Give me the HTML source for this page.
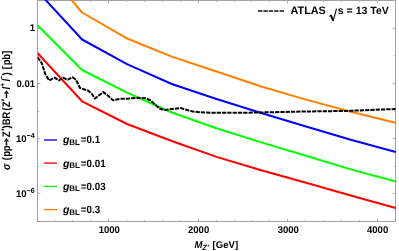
<!DOCTYPE html>
<html><head><meta charset="utf-8">
<style>
html,body{margin:0;padding:0;background:#fff;width:399px;height:251px;overflow:hidden}
svg{display:block;will-change:transform}
text{font-family:"Liberation Sans",sans-serif;font-weight:bold;fill:#000;text-rendering:geometricPrecision}
</style></head><body>
<svg width="399" height="251" viewBox="0 0 399 251">
<defs><clipPath id="c"><rect x="37.5" y="0" width="358.5" height="221.5"/></clipPath></defs>
<rect width="399" height="251" fill="#fff"/>
<rect x="37.5" y="0.5" width="358" height="221" stroke="#a2a2a2" stroke-width="1" fill="none"/>
<path d="M54.5,221.5v-1.4M54.5,0.5v1.4M72.5,221.5v-1.4M72.5,0.5v1.4M90.5,221.5v-1.4M90.5,0.5v1.4M108.5,221.5v-2.8M108.5,0.5v2.8M126.5,221.5v-1.4M126.5,0.5v1.4M144.5,221.5v-1.4M144.5,0.5v1.4M162.5,221.5v-1.4M162.5,0.5v1.4M180.5,221.5v-1.4M180.5,0.5v1.4M198.5,221.5v-2.8M198.5,0.5v2.8M216.5,221.5v-1.4M216.5,0.5v1.4M234.5,221.5v-1.4M234.5,0.5v1.4M251.5,221.5v-1.4M251.5,0.5v1.4M269.5,221.5v-1.4M269.5,0.5v1.4M287.5,221.5v-2.8M287.5,0.5v2.8M305.5,221.5v-1.4M305.5,0.5v1.4M323.5,221.5v-1.4M323.5,0.5v1.4M341.5,221.5v-1.4M341.5,0.5v1.4M359.5,221.5v-1.4M359.5,0.5v1.4M377.5,221.5v-2.8M377.5,0.5v2.8M37.5,28.5h2.8M395.5,28.5h-2.8M37.5,55.5h1.4M395.5,55.5h-1.4M37.5,83.5h2.8M395.5,83.5h-2.8M37.5,111.5h1.4M395.5,111.5h-1.4M37.5,138.5h2.8M395.5,138.5h-2.8M37.5,166.5h1.4M395.5,166.5h-1.4M37.5,193.5h2.8M395.5,193.5h-2.8" stroke="#adadad" stroke-width="1" fill="none"/>
<g clip-path="url(#c)" fill="none" stroke-width="2" stroke-linejoin="round">
<polyline stroke="#ff8000" points="61.5,-11.9 82.05,12.5 126.5,38.2 171.75,56.6 216.5,71.5 261.25,86.5 306,99.6 350.75,111.7 395.7,122.8"/>
<polyline stroke="#0000ff" points="37.5,-8.8 82.1,39.5 127,64.2 171.75,84.0 216.5,99.0 261.25,113.0 306,126.5 350.75,139.8 395.7,152.0"/>
<polyline stroke="#00ff00" points="37.4,25.3 82.1,70 127,92.6 171.75,112.5 216.5,128.3 261.25,142.4 306,155.8 350.75,169.4 395.7,181.5"/>
<polyline stroke="#ff0000" points="37.4,53 82.1,101.3 127,124 171.75,141 216.5,156.9 261.25,170.2 306,182.8 350.75,195.5 395.7,208.0"/>
<polyline stroke="#000" stroke-dasharray="4.25 1.05" points="37.5,57.2 42,63.6 45.2,74 49.2,80.5 54.5,77.6 58.9,80.5 62.9,77.6 67.7,79.7 72.5,77.3 76,79.7 80,88 88,90.5 92,94 94.9,98.5 103.3,92.1 108.1,95.7 112.9,100.2 119.3,98.9 129,98.5 138,97.8 146,98.3 150.5,100.5 159.5,108.5 164,110 172,109 180.5,108 188,110.3 193,111.5 200,112.2 212.6,112.8 253.9,112.6 295,111.7 346.9,110.9 395.7,109"/>
</g>
<text transform="translate(35.1,31.3) scale(0.975,1)" text-anchor="end" style="font-size:9.8px">1</text>
<text transform="translate(35.1,87.0) scale(0.975,1)" text-anchor="end" style="font-size:9.8px">0.01</text>
<text transform="translate(34.8,141.6) scale(0.975,1)" text-anchor="end" style="font-size:9.8px">10<tspan style="font-size:7.4px" dy="-3.7">−4</tspan></text>
<text transform="translate(34.8,196.9) scale(0.975,1)" text-anchor="end" style="font-size:9.8px">10<tspan style="font-size:7.4px" dy="-3.7">−6</tspan></text>
<text transform="translate(109.3,233.2) scale(0.975,1)" text-anchor="middle" style="font-size:9.8px">1000</text>
<text transform="translate(198.6,233.2) scale(0.975,1)" text-anchor="middle" style="font-size:9.8px">2000</text>
<text transform="translate(288.3,233.2) scale(0.975,1)" text-anchor="middle" style="font-size:9.8px">3000</text>
<text transform="translate(377.6,233.2) scale(0.975,1)" text-anchor="middle" style="font-size:9.8px">4000</text>
<text transform="translate(194.4,247.6) scale(0.975,1)" style="font-size:9.8px"><tspan font-style="italic">M</tspan><tspan style="font-size:7.6px" font-style="italic" dy="2">Z′</tspan></text>
<text transform="translate(212.6,247.6) scale(0.975,1)" style="font-size:9.8px">[GeV]</text>
<g transform="translate(9.6,170) rotate(-90) scale(1,1.14)" style="font-size:9.6px">
<text x="0.1" y="0" font-style="italic">σ</text>
<text x="9.8 13.2 18.7" y="0">(pp</text>
<path d="M24.4,-3.4h5.2v1.3h-5.2zM31.9,-2.75L28.1,-5.15L29.2,-2.75L28.1,-0.35z" fill="#000"/>
<text x="32.8" y="0">Z</text>
<text x="38.9" y="-0.8">′</text>
<text x="41.6 44.7 51.3 59.4 62.8" y="0">)BR(Z</text>
<text x="68.7" y="-0.8">′</text>
<path d="M72.0,-3.4h5.2v1.3h-5.2zM79.7,-2.75L75.9,-5.15L77.0,-2.75L75.9,-0.35z" fill="#000"/>
<text x="80.5" y="0" font-style="italic">l</text>
<text x="83.3" y="-3.9" style="font-size:6.5px">+</text>
<text x="88.4" y="0" font-style="italic">l</text>
<text x="90.6" y="-4.6" style="font-size:6.5px">−</text>
<text x="94.6" y="0">)</text>
<text x="100.7 104.7 110.2 115.9" y="0">[pb]</text>
</g>
<line x1="258.05" y1="11.0" x2="283.9" y2="11.0" stroke="#111" stroke-width="1.4" stroke-dasharray="4.35 1.02"/>
<text transform="translate(290.5,14.2) scale(1,1)" style="font-size:10.85px">ATLAS</text>
<g fill="none" stroke="#000"><path d="M329.2,16.4 L331,15.1" stroke-width="1"/><path d="M330.7,14.9 L333.1,20.6" stroke-width="1.9"/><path d="M333.1,21.2 L336.5,8.6" stroke-width="1.1"/></g>
<text transform="translate(337.8,14.2) scale(1,1)" style="font-size:10.55px">s = 13 TeV</text>
<g stroke-width="1.35">
<line x1="44" x2="57" y1="140.0" y2="140.0" stroke="#0000ff"/>
<line x1="44" x2="57" y1="163.1" y2="163.1" stroke="#ff0000"/>
<line x1="44" x2="57" y1="186.4" y2="186.4" stroke="#00ff00"/>
<line x1="44" x2="57" y1="209.6" y2="209.6" stroke="#ff8000"/>
</g>
<text transform="translate(62.9,143.4) scale(1,1)" style="font-size:10.5px"><tspan font-style="italic">g</tspan><tspan style="font-size:8px" dy="1.5">BL</tspan></text>
<text transform="translate(80.8,143.4) scale(0.935,1)" style="font-size:10.5px">=0.1</text>
<text transform="translate(62.9,166.5) scale(1,1)" style="font-size:10.5px"><tspan font-style="italic">g</tspan><tspan style="font-size:8px" dy="1.5">BL</tspan></text>
<text transform="translate(80.8,166.5) scale(0.935,1)" style="font-size:10.5px">=0.01</text>
<text transform="translate(62.9,189.8) scale(1,1)" style="font-size:10.5px"><tspan font-style="italic">g</tspan><tspan style="font-size:8px" dy="1.5">BL</tspan></text>
<text transform="translate(80.8,189.8) scale(0.935,1)" style="font-size:10.5px">=0.03</text>
<text transform="translate(62.9,213.0) scale(1,1)" style="font-size:10.5px"><tspan font-style="italic">g</tspan><tspan style="font-size:8px" dy="1.5">BL</tspan></text>
<text transform="translate(80.8,213.0) scale(0.935,1)" style="font-size:10.5px">=0.3</text>
</svg>
</body></html>
